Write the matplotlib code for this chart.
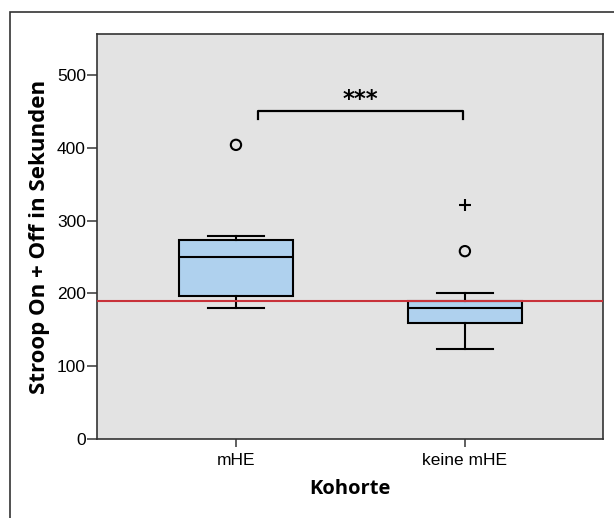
import matplotlib
matplotlib.use('Agg')
import matplotlib.pyplot as plt
from matplotlib.patches import Rectangle

# Group labels and box statistics (seconds)
groups = ['mHE', 'keine mHE']
whisker_low = [180, 123]
q1 = [197, 160]
median = [250, 180]
q3 = [273, 190]
whisker_high = [279, 201]

# Outliers: circles = mild, crosses = extreme
mild_outliers = [[404], [258]]
extreme_outliers = [[], [322]]

reference_line = 190
significance = '***'
bracket_level = 450

y_ticks = [0, 100, 200, 300, 400, 500]

fig = plt.figure(figsize=(6.14, 5.18), dpi=100)
ax = fig.add_axes([0.158, 0.1525, 0.824, 0.7815])

stats = []
for i, name in enumerate(groups):
    stats.append({
        'label': name,
        'whislo': whisker_low[i],
        'q1': q1[i],
        'med': median[i],
        'q3': q3[i],
        'whishi': whisker_high[i],
        'fliers': [],
    })

positions = [1, 2]
ax.bxp(stats, positions=positions, widths=0.5, patch_artist=True,
       showfliers=False,
       boxprops=dict(facecolor='#afd1ee', edgecolor='black', linewidth=1.5),
       medianprops=dict(color='black', linewidth=1.5),
       whiskerprops=dict(color='black', linewidth=1.5),
       capprops=dict(color='black', linewidth=1.5),
       capwidths=0.245, zorder=3)

for pos, vals in zip(positions, mild_outliers):
    ax.scatter([pos] * len(vals), vals, marker='o', s=55, facecolors='none',
               edgecolors='black', linewidths=1.5, zorder=4)
for pos, vals in zip(positions, extreme_outliers):
    ax.scatter([pos] * len(vals), vals, marker='+', s=70, color='black',
               linewidths=1.5, zorder=4)

ax.axhline(reference_line, color='#c8323a', linewidth=1.5, zorder=5)

# Significance bracket
bx0, bx1 = 1.096, 1.99
ax.plot([bx0, bx0, bx1, bx1], [bracket_level - 11, bracket_level, bracket_level, bracket_level - 11],
        color='black', linewidth=1.6, zorder=4)
ax.text((bx0 + bx1) / 2, bracket_level + 1, significance, ha='center', va='bottom',
        fontsize=16.5, fontweight='bold', family='DejaVu Sans')

ax.set_facecolor('#e3e3e3')
ax.set_xlim(0.393, 2.603)
ax.set_ylim(0, 556)
ax.set_yticks(y_ticks)
ax.set_xticks(positions)
ax.set_xticklabels(groups)
for lbl in ax.get_xticklabels() + ax.get_yticklabels():
    lbl.set_family('Liberation Sans')
    lbl.set_fontsize(12.5)
ax.tick_params(axis='y', direction='out', length=7, width=1.2, color='#444444', pad=1)
ax.tick_params(axis='x', direction='out', length=6, width=1.2, color='#444444', pad=4)
for side in ax.spines.values():
    side.set_color('#333333')
    side.set_linewidth(1.2)

ax.set_xlabel('Kohorte', family='Open Sans', fontweight='bold', fontsize=14.5, labelpad=8)
ax.set_ylabel('Stroop On + Off in Sekunden', family='Open Sans', fontweight='bold',
              fontsize=16, labelpad=5)

# Outer frame running off the right and bottom edges
fig.add_artist(Rectangle((9.5 / 614, -0.1), 1.2, 1 - 12 / 518 + 0.1,
                         transform=fig.transFigure, fill=False,
                         edgecolor='#333333', linewidth=1.2))

fig.savefig('out.png', dpi=100)
